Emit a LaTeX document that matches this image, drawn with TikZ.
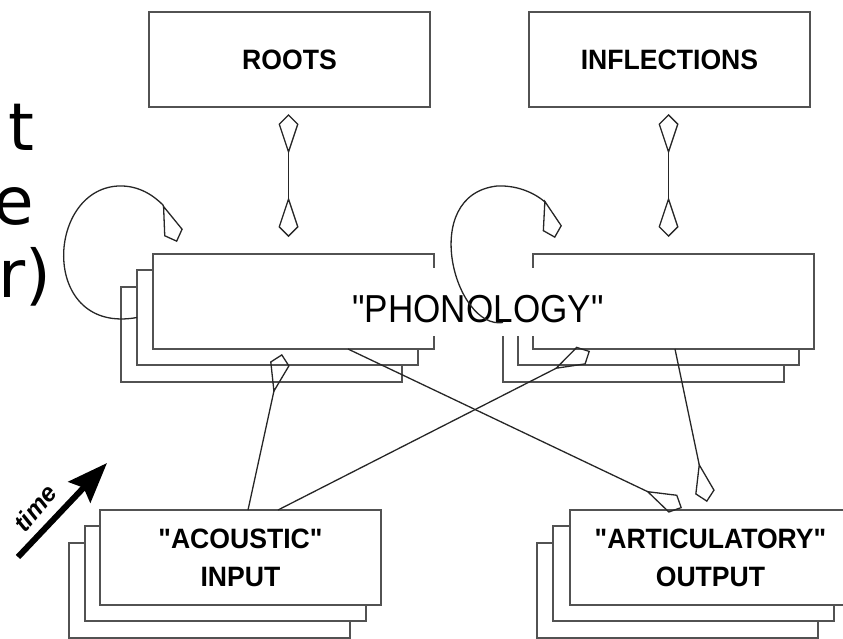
\documentclass[tikz,border=0pt]{standalone}
\usepackage{fontspec}
\setmainfont{Liberation Sans}
\newfontfamily\labfont[FakeStretch=0.95]{Liberation Sans}
\newfontfamily\phfont[FakeStretch=0.9]{Liberation Sans}
\newfontfamily\bigfont{DejaVu Sans}
\usetikzlibrary{arrows.meta,calc}
\begin{document}
\begin{tikzpicture}[x=1pt,y=-1pt,
  box/.style={draw=black!68, line width=2.2pt, fill=white, minimum width=281pt,
    minimum height=95pt, inner sep=0pt, outer sep=0pt, anchor=north west},
  lab/.style={font=\labfont\bfseries\fontsize{28}{38}\selectfont, align=center},
  conn/.style={draw=black!85, line width=1.3pt},
  kite/.style={-{Kite[open,length=40pt,width=20pt,inset=30pt]}},
  dkite/.style={{Kite[open,length=40pt,width=20pt,inset=30pt]}-{Kite[open,length=40pt,width=20pt,inset=30pt]}},
  bigtxt/.style={font=\bigfont\fontsize{66}{74}\selectfont, anchor=base west, inner sep=0pt}
]
\useasboundingbox (0,0) rectangle (843,638);
\clip (0,0) rectangle (843,638);

% left text fragments
\node[bigtxt] (f1) at (8,150) {t};
\node[bigtxt] (f2) at (-7,224) {e};
\node[bigtxt] (f3) at (-2,297) {r)};

% top boxes
\node[box, lab] (roots) at (149,12) {ROOTS};
\node[box, lab] (infl) at (529,12) {INFLECTIONS};

% phonology stacks
\node[box] (ph1c) at (121,287) {};
\node[box] (ph1b) at (137,270) {};
\node[box] (ph1) at (153,254) {};
\node[box] (ph2c) at (503,287) {};
\node[box] (ph2b) at (518,270) {};
\node[box] (ph2) at (533,254) {};

% input / output stacks
\node[box] (acc) at (69,543) {};
\node[box] (acb) at (85,526) {};
\node[box, lab] (ac) at (100,510) {"ACOUSTIC"\\INPUT};
\node[box] (arc) at (537,543) {};
\node[box] (arb) at (553,526) {};
\node[box, lab] (ar) at (570,510) {"ARTICULATORY"\\OUTPUT};

% phonology label
\node[fill=white, inner sep=0pt, minimum width=267pt, minimum height=68pt,
  text height=40pt, text depth=0pt, anchor=base,
  font=\phfont\fontsize{39}{40}\selectfont] (phon) at (478,322) {"PHONOLOGY"};

% vertical double arrows
\draw[conn, dkite] ($(roots.south)+(-1,7)$) -- ($(ph1.north -| roots.south)+(-1,-17)$);
\draw[conn, dkite] ($(infl.south)+(-1,7)$) -- ($(ph2.north -| infl.south)+(-1,-17)$);

% self loops
\draw[conn, kite] (ph1b.west) .. controls (40,335) and (45,190) .. (118,186)
  .. controls (140,185) and (155,197) .. (163,205) -- ($(ph1.north west)+(24,-12)$);
\draw[conn, kite] ($(ph2c.west)+(0,-12)$) .. controls (455,330) and (418,195) .. (497,186)
  .. controls (520,185) and (537,195) .. (545,202) -- ($(ph2.north west)+(22,-16)$);

% crossing connectors
\draw[conn, kite] ($(ac.north west)+(148,0)$) -- ($(ph1.south west)+(129,5)$);
\draw[conn, kite] ($(ac.north west)+(178,0)$) -- ($(ph2.south west)+(57,2)$);
\draw[conn, kite] ($(ph1.south west)+(195,0)$) -- ($(ar.north west)+(112,-2)$);
\draw[conn, kite] ($(ph2.south west)+(142,0)$) -- ($(ar.north west)+(137,-8)$);

% time arrow
\coordinate (ts) at (18,557);
\coordinate (te) at (107,463);
\draw[line width=6pt, -{Stealth[length=40pt,width=30pt,inset=6pt]}] (ts) -- (te);
\node[rotate=50, inner sep=0pt, font=\bfseries\itshape\fontsize{25}{26}\selectfont] (time) at (35,508) {time};
\end{tikzpicture}
\end{document}
